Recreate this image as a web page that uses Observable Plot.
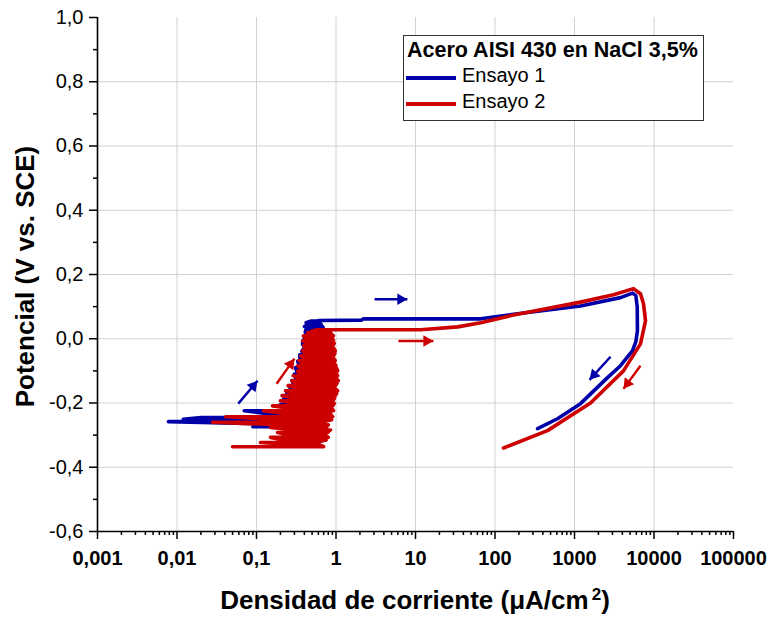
<!DOCTYPE html>
<html>
<head>
<meta charset="utf-8">
<script src="https://cdn.jsdelivr.net/npm/d3@7"></script>
<script src="https://cdn.jsdelivr.net/npm/@observablehq/plot@0.6"></script>
<style>
  body { margin: 0; background: #fff; }
  #wrap { position: relative; width: 774px; height: 620px; font-family: "Liberation Sans", Arial, sans-serif; color: #000; }
  #legend { position: absolute; left: 403px; top: 35px; width: 301px; height: 86px; border: 1.5px solid #333; background: #fff; box-sizing: border-box; }
  #legend .title { position: absolute; left: 3px; top: 2px; font-weight: bold; font-size: 21.5px; white-space: nowrap; }
  #legend .item { position: absolute; left: 58px; font-size: 20px; white-space: nowrap; }
  #legend .swatch { position: absolute; left: 2px; width: 50px; height: 4px; }
  #xlab { position: absolute; left: 97px; width: 636px; top: 586px; text-align: center; font-weight: bold; font-size: 26px; line-height: 28px; white-space: nowrap; }
  #xlab sup { font-size: 17px; vertical-align: 9px; line-height: 0; margin-left: 3px; }
</style>
</head>
<body>
<div id="wrap">
  <div id="chart"></div>
  <div id="legend"></div>
  <div id="xlab"></div>
</div>
<script>
// ---- Axis ticks & labels ----
const xDecades = [0.001, 0.01, 0.1, 1, 10, 100, 1000, 10000, 100000];
const xDecadeLabels = ["0,001", "0,01", "0,1", "1", "10", "100", "1000", "10000", "100000"];
const yTicks = [-0.6, -0.4, -0.2, 0.0, 0.2, 0.4, 0.6, 0.8, 1.0];
const yTickLabels = ["-0,6", "-0,4", "-0,2", "0,0", "0,2", "0,4", "0,6", "0,8", "1,0"];
const yMinorTicks = [-0.5, -0.3, -0.1, 0.1, 0.3, 0.5, 0.7, 0.9];
const xMinorMultipliers = [2, 3, 4, 5, 6, 7, 8, 9];

// ---- Series names & colours ----
const seriesNames = ["Ensayo 1", "Ensayo 2"];
const seriesColors = ["#0000a8", "#cc0000"];
const legendTitle = "Acero AISI 430 en NaCl 3,5%";

// ---- Ensayo 1: noisy cathodic/passive region (current oscillations at each potential) ----
const e1StripeE = [-0.274, -0.266, -0.258, -0.251, -0.245, -0.235, -0.224, -0.215, -0.205, -0.196, -0.187, -0.178, -0.170, -0.160, -0.150, -0.140, -0.130, -0.120, -0.110, -0.100, -0.090, -0.080, -0.070, -0.060, -0.050, -0.039, -0.028, -0.019, -0.010, 0.000, 0.010, 0.020, 0.030, 0.038, 0.045, 0.050, 0.055];
const e1StripeLow = [0.09, 0.20, 0.0078, 0.012, 0.020, 0.15, 0.070, 0.22, 0.20, 0.25, 0.22, 0.27, 0.24, 0.28, 0.26, 0.29, 0.28, 0.31, 0.30, 0.32, 0.31, 0.34, 0.33, 0.35, 0.35, 0.37, 0.40, 0.38, 0.38, 0.40, 0.40, 0.41, 0.42, 0.40, 0.45, 0.42, 0.48];
const e1StripeHigh = [0.55, 0.50, 0.45, 0.55, 0.50, 0.58, 0.60, 0.62, 0.65, 0.70, 0.80, 0.68, 0.60, 0.66, 0.70, 0.64, 0.65, 0.70, 0.70, 0.66, 0.75, 0.70, 0.70, 0.74, 0.72, 0.78, 0.80, 0.76, 0.75, 0.72, 0.75, 0.70, 0.70, 0.68, 0.65, 0.62, 0.60];
// ---- Ensayo 1: anodic sweep and reverse scan ----
const e1SweepI = [0.60, 2.1, 2.2, 20, 65.8, 171, 1190, 3790, 5370, 5900, 6150, 6190, 5900, 5370, 3790, 2600, 1190, 611, 343];
const e1SweepE = [0.057, 0.058, 0.062, 0.062, 0.062, 0.076, 0.102, 0.128, 0.142, 0.135, 0.100, 0.025, -0.010, -0.037, -0.084, -0.121, -0.202, -0.249, -0.280];

// ---- Ensayo 2: noisy cathodic/passive region ----
const e2StripeE = [-0.336, -0.330, -0.323, -0.315, -0.307, -0.300, -0.292, -0.284, -0.276, -0.268, -0.260, -0.252, -0.243, -0.234, -0.224, -0.217, -0.209, -0.201, -0.193, -0.185, -0.177, -0.170, -0.162, -0.154, -0.146, -0.139, -0.131, -0.123, -0.115, -0.108, -0.100, -0.092, -0.084, -0.076, -0.068, -0.061, -0.053, -0.045, -0.037, -0.030, -0.022, -0.014, -0.006, 0.002, 0.009, 0.014, 0.019, 0.024];
const e2StripeLow = [0.050, 0.30, 0.112, 0.22, 0.150, 0.26, 0.184, 0.30, 0.150, 0.22, 0.028, 0.20, 0.041, 0.25, 0.122, 0.28, 0.159, 0.30, 0.200, 0.32, 0.21, 0.30, 0.232, 0.33, 0.25, 0.31, 0.28, 0.35, 0.29, 0.34, 0.33, 0.37, 0.33, 0.38, 0.34, 0.40, 0.36, 0.41, 0.38, 0.42, 0.39, 0.43, 0.38, 0.42, 0.39, 0.45, 0.44, 0.50];
const e2StripeHigh = [0.70, 0.62, 0.55, 0.75, 0.80, 0.72, 0.78, 0.85, 0.75, 0.80, 0.64, 0.88, 0.91, 0.85, 0.93, 0.88, 0.91, 0.95, 0.91, 0.96, 0.98, 1.02, 1.05, 0.97, 0.98, 1.03, 1.07, 1.00, 1.05, 0.99, 1.05, 1.02, 1.00, 0.95, 0.98, 0.93, 0.93, 0.97, 0.98, 0.94, 0.91, 0.95, 0.93, 0.90, 0.93, 0.88, 0.86, 0.80];
// ---- Ensayo 2: anodic sweep and reverse scan ----
const e2SweepI = [0.58, 11.6, 34, 66, 171, 1190, 3100, 5520, 6760, 7380, 7820, 6760, 4130, 1590, 457, 128];
const e2SweepE = [0.028, 0.028, 0.037, 0.050, 0.074, 0.114, 0.137, 0.156, 0.140, 0.109, 0.056, -0.016, -0.100, -0.200, -0.286, -0.340];

// ---- Scan direction arrows (tail -> head) ----
const e1ArrowI1 = [0.059, 3.05, 2840];
const e1ArrowE1 = [-0.202, 0.123, -0.056];
const e1ArrowI2 = [0.103, 7.9, 1545];
const e1ArrowE2 = [-0.131, 0.123, -0.128];
const e2ArrowI1 = [0.179, 6.1, 6760];
const e2ArrowE1 = [-0.140, -0.007, -0.084];
const e2ArrowI2 = [0.30, 16.8, 4130];
const e2ArrowE2 = [-0.062, -0.007, -0.156];

// ---- Build tables ----
function buildCurve(stripeE, low, high, sweepI, sweepE) {
  const pts = [];
  stripeE.forEach((e, k) => {
    if (k % 2 === 0) { pts.push({i: low[k], e}); pts.push({i: high[k], e}); }
    else { pts.push({i: high[k], e}); pts.push({i: low[k], e}); }
  });
  sweepI.forEach((v, k) => pts.push({i: v, e: sweepE[k]}));
  return pts;
}
const curve1 = buildCurve(e1StripeE, e1StripeLow, e1StripeHigh, e1SweepI, e1SweepE);
const curve2 = buildCurve(e2StripeE, e2StripeLow, e2StripeHigh, e2SweepI, e2SweepE);
const arrows1 = e1ArrowI1.map((v, k) => ({x1: v, y1: e1ArrowE1[k], x2: e1ArrowI2[k], y2: e1ArrowE2[k]}));
const arrows2 = e2ArrowI1.map((v, k) => ({x1: v, y1: e2ArrowE1[k], x2: e2ArrowI2[k], y2: e2ArrowE2[k]}));
const xMinor = [];
xDecades.slice(0, -1).forEach(d => xMinorMultipliers.forEach(m => xMinor.push(d * m)));
const xLabelMap = new Map(xDecades.map((d, k) => [d, xDecadeLabels[k]]));
const yLabelMap = new Map(yTicks.map((d, k) => [d, yTickLabels[k]]));

const layout = {
  width: 774,
  height: 620,
  marginLeft: 97,
  marginRight: 41,
  marginTop: 17,
  marginBottom: 89,
  x: {type: "log", domain: [0.001, 100000]},
  y: {domain: [-0.6, 1.0]},
  style: {fontFamily: "'Liberation Sans', Arial, sans-serif", background: "#fff", color: "#000", overflow: "visible"}
};

// Use the chart's own scales to orient filled arrow heads
const probe = Plot.plot({...layout, marks: [Plot.frame({stroke: "none"})]});
const sx = probe.scale("x"), sy = probe.scale("y");
const HEAD_R = 4.3;
function heads(arr) {
  const half = Math.sqrt(HEAD_R * HEAD_R * Math.PI / (Math.sqrt(3) * 3));
  return arr.map(a => {
    const px1 = sx.apply(a.x1), py1 = sy.apply(a.y1), px2 = sx.apply(a.x2), py2 = sy.apply(a.y2);
    const ang = Math.atan2(py2 - py1, px2 - px1);
    const cx = px2 - 2 * half * Math.cos(ang), cy = py2 - 2 * half * Math.sin(ang);
    return {x: sx.invert(cx), y: sy.invert(cy), rotate: ang * 180 / Math.PI + 90};
  });
}
const heads1 = heads(arrows1), heads2 = heads(arrows2);

const chart = Plot.plot({
  ...layout,
  marks: [
    Plot.gridX(xDecades.slice(1, -1), {stroke: "#d2d2d2", strokeOpacity: 1, strokeWidth: 1}),
    Plot.gridY(yTicks.slice(1, -1), {stroke: "#d2d2d2", strokeOpacity: 1, strokeWidth: 1}),
    Plot.line(curve1, {x: "i", y: "e", stroke: seriesColors[0], strokeWidth: 3.6, strokeLinejoin: "round", strokeLinecap: "round"}),
    Plot.line(curve2, {x: "i", y: "e", stroke: seriesColors[1], strokeWidth: 3.6, strokeLinejoin: "round", strokeLinecap: "round"}),
    Plot.link(arrows1, {x1: "x1", y1: "y1", x2: "x2", y2: "y2", stroke: seriesColors[0], strokeWidth: 2.4}),
    Plot.link(arrows2, {x1: "x1", y1: "y1", x2: "x2", y2: "y2", stroke: seriesColors[1], strokeWidth: 2.4}),
    Plot.dot(heads1, {x: "x", y: "y", rotate: "rotate", symbol: "triangle", r: HEAD_R, fill: seriesColors[0], stroke: "none"}),
    Plot.dot(heads2, {x: "x", y: "y", rotate: "rotate", symbol: "triangle", r: HEAD_R, fill: seriesColors[1], stroke: "none"}),
    Plot.axisX({ticks: xMinor, tickSize: 4, tickFormat: () => "", label: null, strokeWidth: 1.5}),
    Plot.axisX({ticks: xDecades, tickSize: 8, tickPadding: 11, tickFormat: d => xLabelMap.get(d), label: null, fontSize: 20, fontWeight: "bold", strokeWidth: 1.5}),
    Plot.axisY({ticks: yMinorTicks, tickSize: 4, tickFormat: () => "", label: null, strokeWidth: 1.5}),
    Plot.axisY({ticks: yTicks, tickSize: 8, tickPadding: 6, tickFormat: d => yLabelMap.get(d), label: null, fontSize: 20, strokeWidth: 1.5}),
    Plot.ruleX([0.001], {stroke: "#000", strokeWidth: 1.6}),
    Plot.ruleY([-0.6], {stroke: "#000", strokeWidth: 1.6}),
    Plot.text(["Potencial (V vs. SCE)"], {frameAnchor: "left", textAnchor: "middle", dx: -72, dy: 2, rotate: -90, fontSize: 26, fontWeight: "bold", fill: "#000"})
  ]
});
document.getElementById("chart").appendChild(chart);

// Legend
const legend = document.getElementById("legend");
legend.innerHTML = `<div class="title">${legendTitle}</div>` +
  seriesNames.map((n, k) => `<div class="swatch" style="top:${40 + k * 26}px;background:${seriesColors[k]}"></div><div class="item" style="top:${28 + k * 26}px">${n}</div>`).join("");

// X axis title
document.getElementById("xlab").innerHTML = "Densidad de corriente (μA/cm<sup>2</sup>)";
</script>
</body>
</html>
